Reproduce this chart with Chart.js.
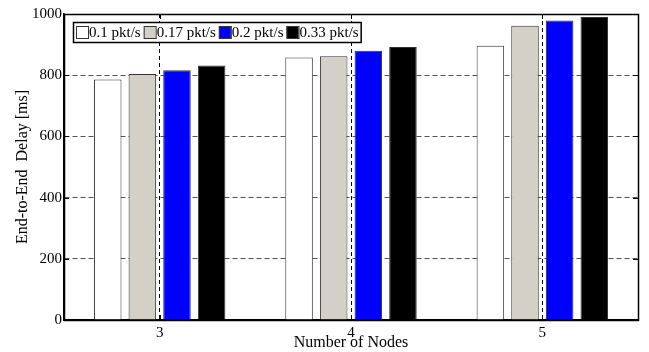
<!DOCTYPE html>
<html>
<head>
<meta charset="utf-8">
<script src="https://cdn.jsdelivr.net/npm/chart.js@4.4.1/dist/chart.umd.min.js"></script>
<style>
  html, body { margin: 0; padding: 0; background: #fff; }
  #wrap { width: 649px; height: 352px; }
</style>
</head>
<body>
<div id="wrap"><canvas id="chart" width="649" height="352"></canvas></div>
<script>
// data
const nodes = ['3', '4', '5'];
const rateLabels = ['0.1 pkt/s', '0.17 pkt/s', '0.2 pkt/s', '0.33 pkt/s'];
const delay01 = [786, 858, 896];
const delay017 = [804, 862, 962];
const delay02 = [816, 880, 979];
const delay033 = [832, 892, 990];
const yTicks = [0, 200, 400, 600, 800, 1000];

const fillColors = ['#ffffff', '#d4d0c8', '#0000ff', '#000000'];
const FONT = 'Liberation Serif, Times New Roman, serif';

// box around the axes, inward tick marks and the boxed legend
const framePlugin = {
  id: 'frame',
  afterDraw(chart) {
    const { ctx, chartArea: a } = chart;
    const y = chart.scales.y, x = chart.scales.x;
    ctx.save();
    ctx.strokeStyle = '#000';
    ctx.lineWidth = 1;
    // inward ticks
    ctx.beginPath();
    yTicks.forEach(v => {
      const py = Math.round(y.getPixelForValue(v)) + 0.5;
      ctx.moveTo(a.left, py); ctx.lineTo(a.left + 5, py);
      ctx.moveTo(a.right, py); ctx.lineTo(a.right - 5, py);
    });
    nodes.forEach((n, i) => {
      const px = Math.round(x.getPixelForTick(i)) + 0.5;
      ctx.moveTo(px, a.bottom); ctx.lineTo(px, a.bottom - 5);
      ctx.moveTo(px, a.top); ctx.lineTo(px, a.top + 5);
    });
    ctx.stroke();
    ctx.lineWidth = 1.5;
    ctx.strokeRect(Math.round(a.left) + 0.5, Math.round(a.top) + 0.5,
      Math.round(a.right - a.left), Math.round(a.bottom - a.top));

    // legend
    const lx = a.left + 9, ly = a.top + 8, lh = 20;
    ctx.font = '15px ' + FONT;
    const sw = 12;
    let widths = chart.data.datasets.map(d => sw + 2 + ctx.measureText(d.label).width + 2);
    const lw = widths.reduce((s, w) => s + w, 0) + 2;
    ctx.fillStyle = '#fff';
    ctx.fillRect(lx, ly, lw, lh);
    ctx.lineWidth = 1.5;
    ctx.strokeStyle = '#000';
    ctx.strokeRect(lx + 0.5, ly + 0.5, lw, lh);
    let cx = lx + 3;
    chart.data.datasets.forEach((d, i) => {
      ctx.fillStyle = d.backgroundColor;
      ctx.fillRect(cx, ly + 4, sw, sw);
      ctx.lineWidth = 1;
      ctx.strokeStyle = '#333';
      ctx.strokeRect(cx + 0.5, ly + 4.5, sw, sw);
      ctx.fillStyle = '#000';
      ctx.textBaseline = 'middle';
      ctx.textAlign = 'left';
      ctx.fillText(d.label, cx + sw + 1, ly + lh / 2 + 1);
      cx += widths[i];
    });
    ctx.restore();
  }
};

const series = [delay01, delay017, delay02, delay033];

new Chart(document.getElementById('chart'), {
  type: 'bar',
  data: {
    labels: nodes,
    datasets: series.map((vals, i) => ({
      label: rateLabels[i],
      data: vals,
      backgroundColor: fillColors[i],
      borderColor: '#333',
      borderWidth: 1,
      categoryPercentage: 0.724,
      barPercentage: 0.795
    }))
  },
  options: {
    responsive: false,
    animation: false,
    layout: { padding: { left: 0, right: 11, top: 14, bottom: 0 } },
    plugins: {
      legend: { display: false },
      tooltip: { enabled: false }
    },
    scales: {
      x: {
        grid: { offset: false, color: '#000', lineWidth: 1, drawTicks: false },
        border: { display: true, color: '#000', width: 1.5, dash: [4, 3] },
        ticks: { color: '#000', font: { family: FONT, size: 15 }, padding: 4 },
        title: { display: true, text: 'Number of Nodes', color: '#000',
                 font: { family: FONT, size: 16 }, padding: { top: 0, bottom: 0 } },
        afterFit(s) { s.height = 32; }
      },
      y: {
        min: 0,
        max: 1000,
        afterBuildTicks(s) { s.ticks = yTicks.map(v => ({ value: v })); },
        grid: { color: '#555', lineWidth: 1, drawTicks: false },
        border: { display: true, color: '#000', width: 1.5, dash: [5, 3] },
        ticks: { color: '#000', font: { family: FONT, size: 15 }, padding: 2,
                 callback: v => String(v) },
        title: { display: true, text: 'End-to-End  Delay [ms]', color: '#000',
                 font: { family: FONT, size: 16 }, padding: { top: 13, bottom: 4 } },
        afterFit(s) { s.width = 64; }
      }
    }
  },
  plugins: [framePlugin]
});
</script>
</body>
</html>
